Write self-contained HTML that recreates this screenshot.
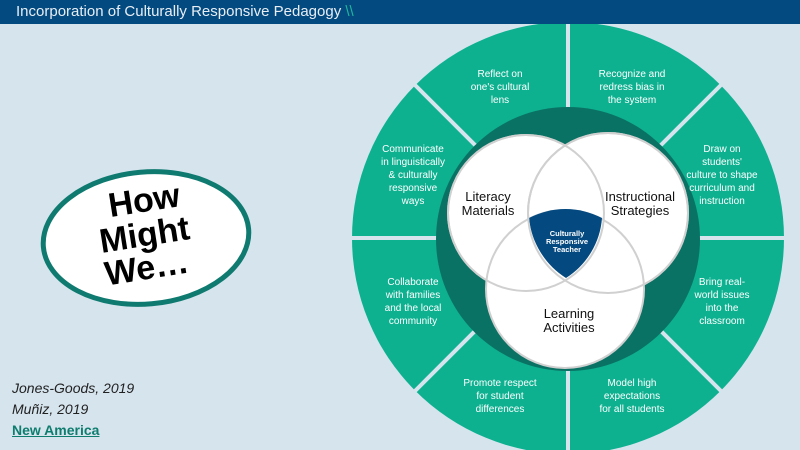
<!DOCTYPE html>
<html><head><meta charset="utf-8"><style>
body{margin:0;width:800px;height:450px;overflow:hidden;background:#d6e4ee;font-family:"Liberation Sans",sans-serif;position:relative}
.hdr{position:absolute;left:0;top:0;width:800px;height:24px;background:#034a80;color:#e8eef4;font-size:15px;line-height:24px}
.hdr span{margin-left:16px}
.cite{position:absolute;left:12px;font-size:14px;font-style:italic;color:#222}
</style></head><body>
<div class="hdr"><span>Incorporation of Culturally Responsive Pedagogy <b style="color:#1fb79a;font-weight:normal">\\</b></span></div>
<svg width="800" height="450" style="position:absolute;left:0;top:0">
<defs><clipPath id="c"><rect x="0" y="24" width="800" height="426"/></clipPath></defs>
<g clip-path="url(#c)">
<circle cx="568" cy="238" r="216" fill="#0db190"/>
<g stroke="#d6e4ee" stroke-width="4">
<line x1="568" y1="10" x2="568" y2="460"/>
<line x1="340" y1="238" x2="800" y2="238"/>
<line x1="407" y1="77" x2="729" y2="399"/>
<line x1="729" y1="77" x2="407" y2="399"/>
</g>
<circle cx="568" cy="239" r="132" fill="#0a7264"/>
<g fill="#fff" stroke="#d0d0d0" stroke-width="2">
<circle cx="526" cy="213" r="78"/>
<circle cx="608" cy="213" r="80"/>
<circle cx="565" cy="289" r="79"/>
</g>
<path d="M529,218 A79,79 0 0 1 602,218 A78,78 0 0 1 566,278 A80,80 0 0 1 529,218Z" fill="#044a80"/>
<g fill="none" stroke="#d0d0d0" stroke-width="2">
<circle cx="526" cy="213" r="78"/>
<circle cx="608" cy="213" r="80"/>
</g>
</g>
<g font-size="13" fill="#111" text-anchor="middle">
<text x="488" y="201">Literacy</text><text x="488" y="215">Materials</text>
<text x="640" y="201">Instructional</text><text x="640" y="215">Strategies</text>
<text x="569" y="318">Learning</text><text x="569" y="332">Activities</text>
</g>
<g font-size="7.5" fill="#fff" text-anchor="middle" font-weight="bold">
<text x="567" y="236">Culturally</text><text x="567" y="244">Responsive</text><text x="567" y="252">Teacher</text>
</g>
<g font-size="10" fill="#fff" text-anchor="middle">
<text x="500" y="77">Reflect on</text><text x="500" y="90">one's cultural</text><text x="500" y="103">lens</text>
<text x="632" y="77">Recognize and</text><text x="632" y="90">redress bias in</text><text x="632" y="103">the system</text>
<text x="413" y="152">Communicate</text><text x="413" y="165">in linguistically</text><text x="413" y="178">&amp; culturally</text><text x="413" y="191">responsive</text><text x="413" y="204">ways</text>
<text x="722" y="152">Draw on</text><text x="722" y="165">students'</text><text x="722" y="178">culture to shape</text><text x="722" y="191">curriculum and</text><text x="722" y="204">instruction</text>
<text x="413" y="285">Collaborate</text><text x="413" y="298">with families</text><text x="413" y="311">and the local</text><text x="413" y="324">community</text>
<text x="722" y="285">Bring real-</text><text x="722" y="298">world issues</text><text x="722" y="311">into the</text><text x="722" y="324">classroom</text>
<text x="500" y="386">Promote respect</text><text x="500" y="399">for student</text><text x="500" y="412">differences</text>
<text x="632" y="386">Model high</text><text x="632" y="399">expectations</text><text x="632" y="412">for all students</text>
</g>
<ellipse cx="146" cy="238" rx="103" ry="66" transform="rotate(-5 146 238)" fill="#fff" stroke="#0f7a70" stroke-width="5"/>
<g transform="rotate(-9 145 238)" font-size="34" font-weight="bold" fill="#000" text-anchor="middle">
<text x="150" y="212">How</text><text x="145" y="246">Might</text><text x="142" y="279">We…</text>
</g>
</svg>
<div class="cite" style="top:380px">Jones-Goods, 2019</div>
<div class="cite" style="top:401px">Muñiz, 2019</div>
<div style="position:absolute;left:12px;top:422px;font-size:14px;font-weight:bold;color:#0e7d6e;text-decoration:underline">New America</div>
</body></html>
